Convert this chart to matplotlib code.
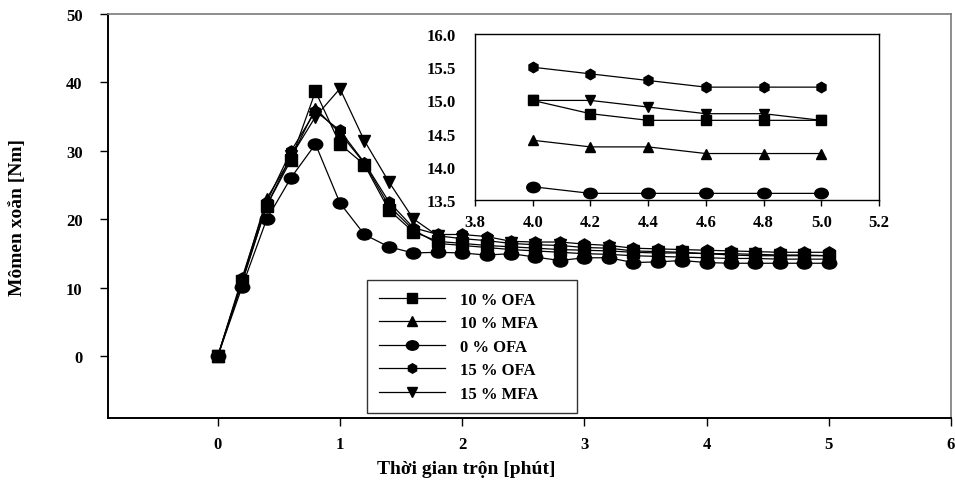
import matplotlib

matplotlib.use("Agg")
import matplotlib.pyplot as plt  # noqa: E402
from matplotlib.markers import MarkerStyle  # noqa: E402
from matplotlib.transforms import Affine2D  # noqa: E402

plt.rcParams["font.family"] = "Liberation Serif"
plt.rcParams["font.weight"] = "bold"

time_min = [0.0, 0.2, 0.4, 0.6, 0.8, 1.0, 1.2, 1.4, 1.6, 1.8, 2.0, 2.2, 2.4,
            2.6, 2.8, 3.0, 3.2, 3.4, 3.6, 3.8, 4.0, 4.2, 4.4, 4.6, 4.8, 5.0]

ofa_10 = [0, 11.0, 22.0, 28.7, 38.7, 31.0, 28.0, 21.4, 18.2, 16.8, 16.5, 16.2,
          16.0, 15.8, 15.6, 15.5, 15.4, 15.2, 15.1, 15.1,
          15.0, 14.8, 14.7, 14.7, 14.7, 14.7]
mfa_10 = [0, 11.2, 23.0, 29.0, 36.2, 32.6, 28.2, 22.0, 18.5, 16.5, 16.2, 15.9,
          15.6, 15.4, 15.2, 15.0, 14.9, 14.7, 14.6, 14.5,
          14.4, 14.3, 14.3, 14.2, 14.2, 14.2]
ofa_0 = [0, 10.2, 20.0, 26.1, 31.0, 22.4, 17.8, 16.0, 15.1, 15.2, 15.1, 14.8,
         15.0, 14.5, 14.0, 14.4, 14.4, 13.7, 13.8, 14.0,
         13.7, 13.6, 13.6, 13.6, 13.6, 13.6]
ofa_15 = [0, 11.5, 22.5, 30.0, 35.8, 33.0, 28.3, 22.6, 18.8, 17.8, 17.8, 17.5,
          16.8, 16.7, 16.7, 16.4, 16.2, 15.8, 15.7, 15.6,
          15.5, 15.4, 15.3, 15.2, 15.2, 15.2]
mfa_15 = [0, 10.8, 22.0, 29.2, 35.0, 39.1, 31.5, 25.5, 20.1, 17.6, 17.2, 16.9,
          16.5, 16.3, 16.2, 15.9, 15.8, 15.4, 15.3, 15.2,
          15.0, 15.0, 14.9, 14.8, 14.8, 14.7]

labels = ["10 % OFA", "10 % MFA", "0 % OFA", "15 % OFA", "15 % MFA"]
main_xticks = [0, 1, 2, 3, 4, 5, 6]
main_yticks = [0, 10, 20, 30, 40, 50]
inset_xticks = [3.8, 4.0, 4.2, 4.4, 4.6, 4.8, 5.0, 5.2]
inset_yticks = [13.5, 14.0, 14.5, 15.0, 15.5, 16.0]
inset_start = 20  # index of t = 4.0

ellipse = MarkerStyle("o", transform=Affine2D().scale(1.3, 1.0))
markers = ["s", "^", ellipse, "h", "v"]
series = [ofa_10, mfa_10, ofa_0, ofa_15, mfa_15]

fig = plt.figure(figsize=(9.55, 4.81), dpi=100)
ax = fig.add_axes([0.1128, 0.1289, 0.8830, 0.8399])

handles = []
for vals, mk, lab in zip(series, markers, labels):
    h, = ax.plot(time_min, vals, color="black", lw=0.9, marker=mk, ms=8,
                 mfc="black", mec="black", label=lab)
    handles.append(h)

ax.set_xlim(-0.9, 6)
ax.set_ylim(-9, 50)
ax.set_xticks(main_xticks)
ax.set_yticks(main_yticks)
ax.tick_params(direction="out", length=6, width=1, colors="black",
               labelsize=12)
ax.tick_params(axis="y", pad=12)
ax.tick_params(axis="x", pad=7)
for s in ("left", "bottom"):
    ax.spines[s].set_linewidth(1.4)
    ax.spines[s].set_color("black")
for s in ("top", "right"):
    ax.spines[s].set_linewidth(1.2)
    ax.spines[s].set_color("#7a7a7a")

ax.set_ylabel("Mômen xoắn [Nm]", fontsize=14, fontweight="bold")
ax.yaxis.set_label_coords(-0.097, 0.5)
ax.set_xlabel("Thời gian trộn [phút]", fontsize=14, fontweight="bold")
ax.xaxis.set_label_coords(0.4255, -0.105)

leg = fig.legend(handles=handles, loc="upper left",
                 bbox_to_anchor=(367 / 955, 1 - 410 / 481, 210 / 955, 129 / 481),
                 mode="expand", fontsize=12, frameon=True, fancybox=False,
                 handlelength=4.0, borderpad=0.7, labelspacing=0.45,
                 handletextpad=0.9, borderaxespad=0, markerscale=0.85)
leg.get_frame().set_edgecolor("black")
leg.get_frame().set_linewidth(1.0)
for t in leg.get_texts():
    t.set_fontweight("bold")

ins = fig.add_axes([0.4974, 0.5821, 0.4230, 0.3451])
for vals, mk in zip(series, markers):
    ins.plot(time_min[inset_start:], vals[inset_start:], color="black", lw=0.9,
             marker=mk, ms=7.5, mfc="black", mec="black")
ins.set_xlim(3.8, 5.2)
ins.set_ylim(13.5, 16.0)
ins.set_xticks(inset_xticks)
ins.set_xticklabels([f"{v:.1f}" for v in inset_xticks])
ins.set_yticks(inset_yticks)
ins.set_yticklabels([f"{v:.1f}" for v in inset_yticks])
ins.tick_params(axis="x", direction="out", length=4, width=1, labelsize=12,
                pad=6)
ins.tick_params(axis="y", length=0, labelsize=12, pad=14)
for s in ins.spines.values():
    s.set_linewidth(1.0)
    s.set_color("black")

fig.savefig("out.png", dpi=100)
